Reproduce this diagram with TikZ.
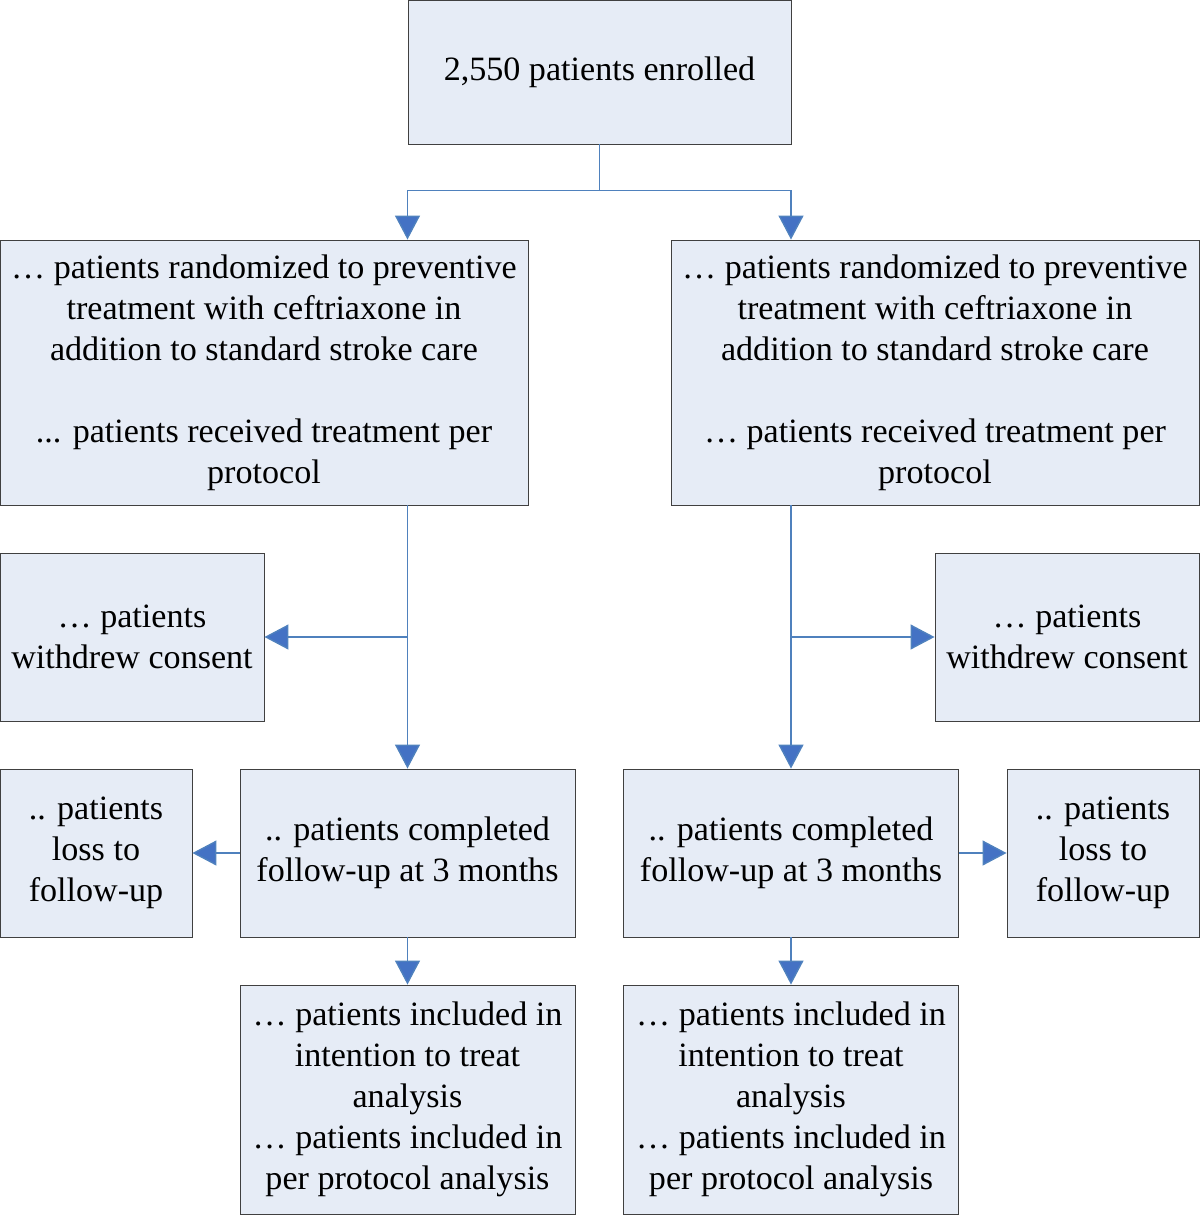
\documentclass[tikz,border=0pt]{standalone}
\usepackage{fontspec}
\setmainfont{Liberation Serif}
\usetikzlibrary{arrows.meta}

\definecolor{boxfill}{RGB}{230,236,246}
\definecolor{boxline}{RGB}{64,64,64}
\definecolor{flowline}{RGB}{79,129,189}
\definecolor{tipfill}{RGB}{68,114,196}

\begin{document}
\begin{tikzpicture}[
    >={Triangle[width=0.5cm,length=0.48cm,fill=tipfill]},
    box/.style={draw=boxline, line width=0.5pt, fill=boxfill, inner sep=0pt,
        align=center, font=\fontsize{19.4}{23.3}\selectfont},
    flow/.style={draw=flowline, line width=0.8pt, ->}
]
    \useasboundingbox (0,0) rectangle (24,-24.3);

    % Enrolment
    \node[box, minimum width=7.66cm, minimum height=2.88cm] (enrol) at (11.99,-1.44) {2,550 patients enrolled};

    % Randomization
    \node[box, minimum width=10.56cm, minimum height=5.3cm] (randL) at (5.28,-7.45)
        {… patients randomized to preventive\\ treatment with ceftriaxone in\\ addition to standard stroke care\\ ~\\ ... patients received treatment per\\ protocol};
    \node[box, minimum width=10.56cm, minimum height=5.3cm] (randR) at (18.7,-7.45)
        {… patients randomized to preventive\\ treatment with ceftriaxone in\\ addition to standard stroke care\\ ~\\ … patients received treatment per\\ protocol};

    % Withdrawals
    \node[box, minimum width=5.28cm, minimum height=3.36cm] (withL) at (2.64,-12.74) {… patients\\ withdrew consent};
    \node[box, minimum width=5.28cm, minimum height=3.36cm] (withR) at (21.34,-12.74) {… patients\\ withdrew consent};

    % Follow-up
    \node[box, minimum width=6.7cm, minimum height=3.36cm] (compL) at (8.15,-17.06) {.. patients completed\\ follow-up at 3 months};
    \node[box, minimum width=6.7cm, minimum height=3.36cm] (compR) at (15.82,-17.06) {.. patients completed\\ follow-up at 3 months};
    \node[box, minimum width=3.84cm, minimum height=3.36cm] (lossL) at (1.92,-17.06) {.. patients\\ loss to\\ follow-up};
    \node[box, minimum width=3.84cm, minimum height=3.36cm] (lossR) at (22.06,-17.06) {.. patients\\ loss to\\ follow-up};

    % Analysis
    \node[box, minimum width=6.7cm, minimum height=4.58cm] (anaL) at (8.15,-21.99)
        {… patients included in\\ intention to treat\\ analysis\\ … patients included in\\ per protocol analysis};
    \node[box, minimum width=6.7cm, minimum height=4.58cm] (anaR) at (15.82,-21.99)
        {… patients included in\\ intention to treat\\ analysis\\ … patients included in\\ per protocol analysis};

    % Connections
    \draw[flow] (enrol.south) -- ++(0,-0.92) -| (compL.north |- randL.north);
    \draw[flow] (enrol.south) -- ++(0,-0.92) -| (compR.north |- randR.north);

    \draw[flow] (compL.north |- randL.south) -- (compL.north);
    \draw[flow] (compR.north |- randR.south) -- (compR.north);
    \draw[flow] (compL.north |- withL.east) -- (withL.east);
    \draw[flow] (compR.north |- withR.west) -- (withR.west);

    \draw[flow] (compL.west) -- (lossL.east);
    \draw[flow] (compR.east) -- (lossR.west);
    \draw[flow] (compL.south) -- (anaL.north);
    \draw[flow] (compR.south) -- (anaR.north);

\end{tikzpicture}
\end{document}
